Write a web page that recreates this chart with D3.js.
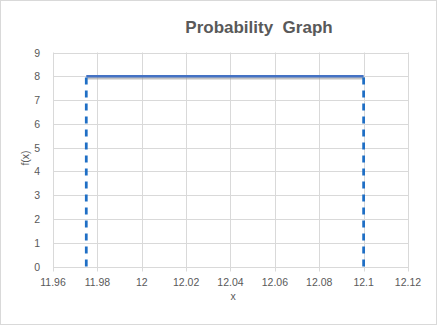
<!DOCTYPE html>
<html><head><meta charset="utf-8">
<script src="https://cdn.jsdelivr.net/npm/d3@7/dist/d3.min.js"></script>
<style>body{margin:0;background:#fff}svg{display:block}text{font-family:"Liberation Sans",Arial,sans-serif}</style>
</head><body>
<script>
const title = "Probability  Graph";
const xTicks = [11.96, 11.98, 12, 12.02, 12.04, 12.06, 12.08, 12.1, 12.12];
const yTicks = [0,1,2,3,4,5,6,7,8,9];
const topLineX = [11.975, 12.1];
const topLineY = [8, 8];
const dashLeftX = [11.975, 11.975];
const dashLeftY = [0, 8];
const dashRightX = [12.1, 12.1];
const dashRightY = [0, 8];

(function(){
const W = 437, H = 325;
const svg = d3.select("body").append("svg").attr("width", W).attr("height", H);
svg.append("rect").attr("x",0.5).attr("y",0.5).attr("width",W-1).attr("height",H-1)
  .attr("fill","#fff").attr("stroke","#d9d9d9");

const x = d3.scaleLinear().domain([11.96, 12.12]).range([53, 408]);
const y = d3.scaleLinear().domain([0, 9]).range([266.5, 52.5]);

const g = svg.append("g");
g.selectAll(".vg").data(xTicks).join("line")
  .attr("x1", d => Math.round(x(d))+0.5).attr("x2", d => Math.round(x(d))+0.5)
  .attr("y1", y(9)).attr("y2", y(0)+5)
  .attr("stroke", "#d9d9d9").attr("stroke-width", 1);
g.selectAll(".hg").data(yTicks).join("line")
  .attr("x1", x(11.96)).attr("x2", x(12.12))
  .attr("y1", d => Math.round(y(d))+0.5).attr("y2", d => Math.round(y(d))+0.5)
  .attr("stroke", "#d9d9d9").attr("stroke-width", 1);

svg.append("g").selectAll("text").data(xTicks).join("text")
  .attr("x", d => x(d)).attr("y", 286).attr("text-anchor","middle")
  .attr("font-size", 10.5).attr("fill", "#595959").text(d => d3.format("")(d));
svg.append("g").selectAll("text").data(yTicks).join("text")
  .attr("x", 40).attr("y", d => y(d)+4).attr("text-anchor","end")
  .attr("font-size", 10.5).attr("fill", "#595959").text(d => d);

svg.append("text").attr("x", 233).attr("y", 300).attr("text-anchor","middle")
  .attr("font-size", 10.5).attr("fill","#595959").text("x");
svg.append("text").attr("transform","translate(29,158) rotate(-90)").attr("text-anchor","middle")
  .attr("font-size", 10.5).attr("fill","#595959").text("f(x)");

svg.append("text").attr("x", 259).attr("y", 33).attr("text-anchor","middle")
  .attr("font-size", 17).attr("font-weight","bold").attr("fill","#595959")
  .style("white-space","pre").text(title);

const line = d3.line().x(d => x(d[0])).y(d => y(d[1]));
const topPts = d3.zip(topLineX, topLineY);
svg.append("path").datum(topPts).attr("d", line).attr("transform","translate(1,2)")
  .attr("fill","none").attr("stroke","#9a9a9a").attr("stroke-width",2.5).attr("opacity",0.6);
svg.append("path").datum(topPts).attr("d", line)
  .attr("fill","none").attr("stroke","#4472C4").attr("stroke-width",2.5);

[[dashLeftX, dashLeftY],[dashRightX, dashRightY]].forEach(([xs, ys]) => {
  svg.append("path").datum(d3.zip(xs, ys)).attr("d", line)
    .attr("fill","none").attr("stroke","#1F6FC5").attr("stroke-width",2.75)
    .attr("stroke-dasharray","7,6");
});
})();
</script>
</body></html>
